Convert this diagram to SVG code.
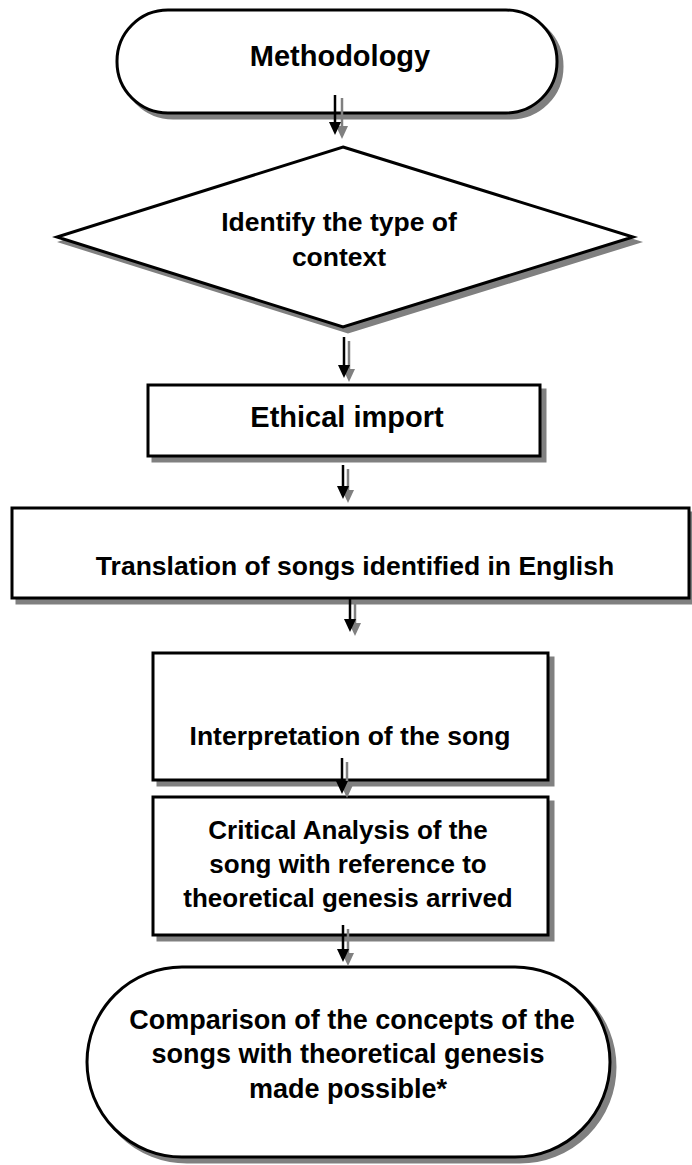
<svg xmlns="http://www.w3.org/2000/svg" width="692" height="1165" viewBox="0 0 692 1165">
<style>
.sh{fill:#808080;stroke:#808080;stroke-width:3}
.nd{fill:#fff;stroke:#000;stroke-width:3}
.t{font-family:"Liberation Sans",Arial,sans-serif;font-weight:bold;fill:#000;text-anchor:middle}
.ln{stroke:#000;stroke-width:2.5;fill:none}
.lns{stroke:#808080;stroke-width:2.5;fill:none}
.ah{fill:#000}
.ahs{fill:#808080}
</style>
<g id="n1">
<rect class="sh" x="122" y="15" width="440" height="103" rx="51"/>
<rect class="nd" x="117" y="10" width="440" height="103" rx="51"/>
<text class="t" x="340" y="66" font-size="29">Methodology</text>
</g>
<g id="n2">
<polygon class="sh" points="348,152 638,242 348,332 62,242"/>
<polygon class="nd" points="343,147 633,237 343,327 57,237"/>
<text class="t" x="339" y="231" font-size="26.5">Identify the type of</text>
<text class="t" x="339" y="266" font-size="26.5">context</text>
</g>
<g id="n3">
<rect class="sh" x="153" y="390" width="392" height="71"/>
<rect class="nd" x="148" y="385" width="392" height="71"/>
<text class="t" x="347" y="427" font-size="29">Ethical import</text>
</g>
<g id="n4">
<rect class="sh" x="17" y="513" width="677" height="90"/>
<rect class="nd" x="12" y="508" width="677" height="90"/>
<text class="t" x="355" y="575" font-size="26.5">Translation of songs identified in English</text>
</g>
<g id="n5">
<rect class="sh" x="158" y="658" width="395" height="127"/>
<rect class="nd" x="153" y="653" width="395" height="127"/>
<text class="t" x="350" y="745" font-size="26.5">Interpretation of the song</text>
</g>
<g id="n6">
<rect class="sh" x="158" y="802" width="395" height="138"/>
<rect class="nd" x="153" y="797" width="395" height="138"/>
<text class="t" x="348" y="839" font-size="26">Critical Analysis of the</text>
<text class="t" x="348" y="873" font-size="26">song with reference to</text>
<text class="t" x="348" y="907" font-size="26">theoretical genesis arrived</text>
</g>
<g id="n7">
<rect class="sh" x="92" y="972" width="523" height="190" rx="95"/>
<rect class="nd" x="87" y="967" width="523" height="190" rx="95"/>
<text class="t" x="352" y="1029" font-size="27">Comparison of the concepts of the</text>
<text class="t" x="348" y="1063" font-size="27">songs with theoretical genesis</text>
<text class="t" x="348" y="1098" font-size="27">made possible*</text>
</g>
<g id="connectors">
<line class="lns" x1="342" y1="98" x2="342" y2="128"/>
<polygon class="ahs" points="336,126 348,126 342,139"/>
<line class="ln" x1="335" y1="95" x2="335" y2="124"/>
<polygon class="ah" points="329,122 341,122 335,135"/>
<line class="lns" x1="349" y1="341" x2="349" y2="371"/>
<polygon class="ahs" points="343,369 355,369 349,382"/>
<line class="ln" x1="344" y1="337" x2="344" y2="367"/>
<polygon class="ah" points="338,365 350,365 344,378"/>
<line class="lns" x1="348" y1="469" x2="348" y2="492"/>
<polygon class="ahs" points="342,490 354,490 348,503"/>
<line class="ln" x1="343" y1="465" x2="343" y2="488"/>
<polygon class="ah" points="337,486 349,486 343,499"/>
<line class="lns" x1="355" y1="601" x2="355" y2="625"/>
<polygon class="ahs" points="349,623 361,623 355,636"/>
<line class="ln" x1="350" y1="598" x2="350" y2="621"/>
<polygon class="ah" points="344,619 356,619 350,632"/>
<line class="lns" x1="347" y1="762" x2="347" y2="787"/>
<polygon class="ahs" points="341,785 353,785 347,798"/>
<line class="ln" x1="342" y1="758" x2="342" y2="783"/>
<polygon class="ah" points="336,781 348,781 342,794"/>
<line class="lns" x1="348" y1="929" x2="348" y2="955"/>
<polygon class="ahs" points="342,953 354,953 348,966"/>
<line class="ln" x1="343" y1="925" x2="343" y2="951"/>
<polygon class="ah" points="337,949 349,949 343,962"/>
</g>
</svg>
